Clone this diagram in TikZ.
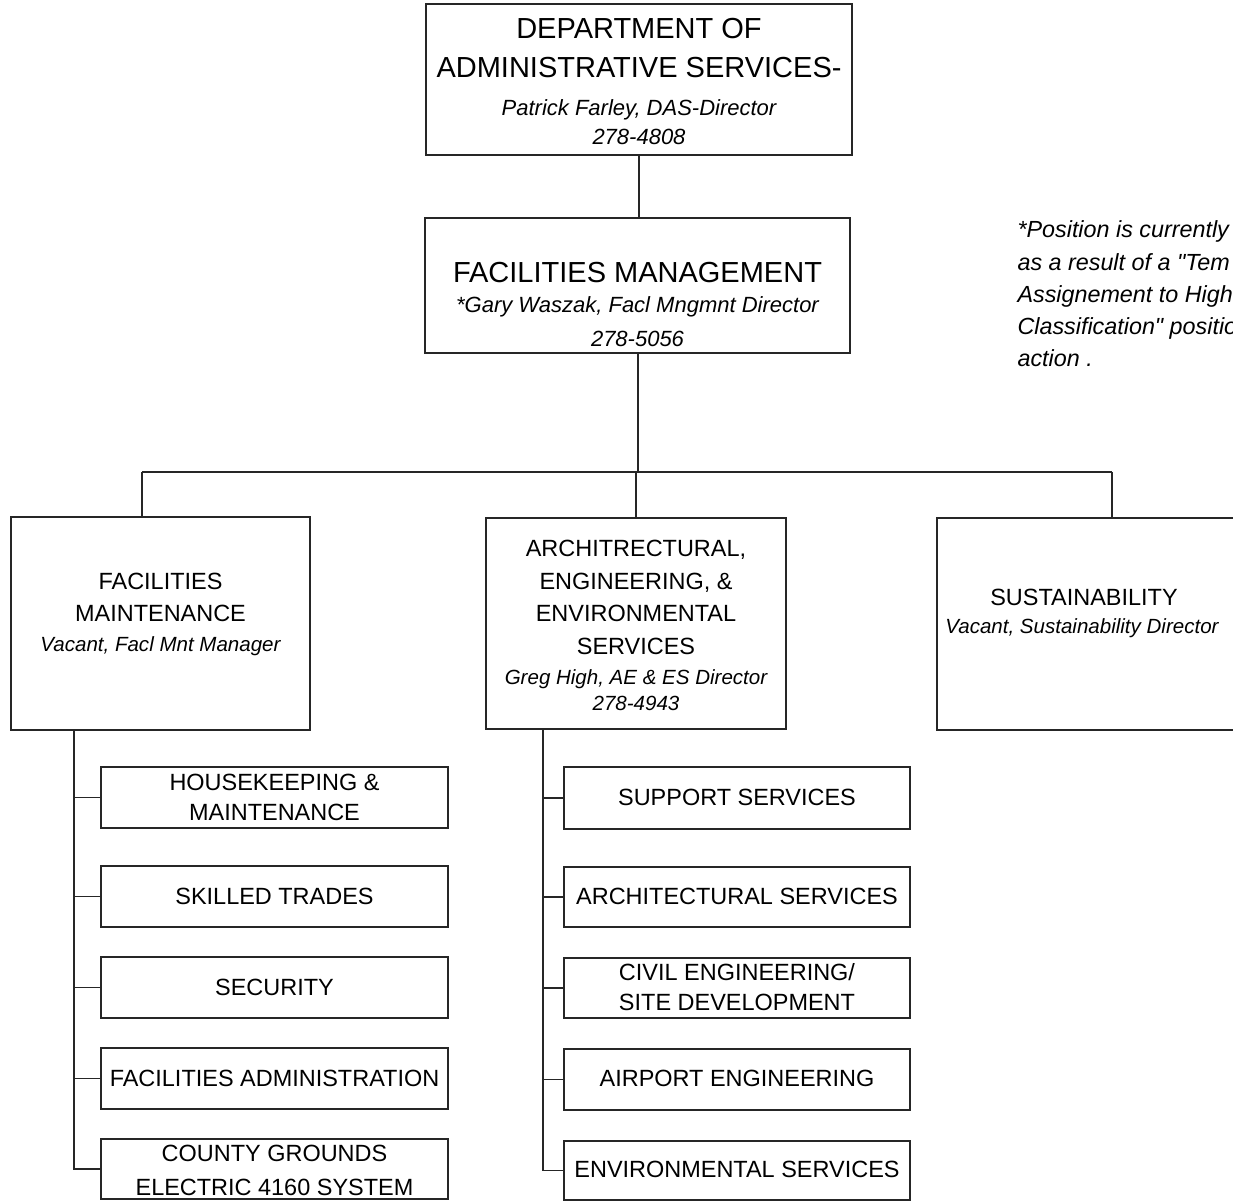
\documentclass[tikz,border=0pt]{standalone}
\usepackage{fontspec}
\setmainfont{Liberation Sans}
\newfontfamily\plainsans{Liberation Sans}
\begin{document}
\begin{tikzpicture}[x=0.75pt,y=-0.75pt,
  line width=0.8pt,
  bx/.style 2 args={draw=black!85, line width=0.8pt, inner sep=0pt, minimum width=#1*0.75pt, minimum height=#2*0.75pt},
  conn/.style={draw=black!85, line width=0.8pt},
  tbig/.style={inner sep=0pt, text height=15.6pt, text depth=0pt, font=\fontsize{21.75}{24}\selectfont},
  tit/.style={inner sep=0pt, text height=11.8pt, text depth=0pt, font=\itshape\fontsize{16.5}{19}\selectfont},
  tmid/.style={inner sep=0pt, text height=12.6pt, text depth=0pt, font=\fontsize{17.6}{20}\selectfont},
  tmidit/.style={inner sep=0pt, text height=11pt, text depth=0pt, font=\itshape\fontsize{15.4}{18}\selectfont},
  tsub/.style={inner sep=0pt, text height=12.6pt, text depth=0pt, font=\fontsize{17.6}{20}\selectfont},
  tnote/.style={inner sep=0pt, anchor=west, text height=12.5pt, text depth=0pt, font=\plainsans\itshape\fontsize{17.5}{20}\selectfont}
]
\useasboundingbox (0,0) rectangle (1233,1201);
\fill[white] (0,0) rectangle (1233,1201);
\clip (0,0) rectangle (1233,1201);

% ---- boxes ----
\node[bx={426}{151}] (das) at (639,79.5) {};
\node[bx={425}{135}] (fm) at (637.5,285.5) {};
\node[bx={299}{213}] (fmaint) at (160.5,623.5) {};
\node[bx={300}{211}] (aees) at (636,623.5) {};
\node[bx={303}{212}] (sus) at (1088.5,624) {};

\node[bx={347}{61}] (hk) at (274.5,797.5) {};
\node[bx={347}{61}] (st) at (274.5,896.5) {};
\node[bx={347}{61}] (sec) at (274.5,987.5) {};
\node[bx={347}{61}] (fa) at (274.5,1078.5) {};
\node[bx={347}{60}] (cg) at (274.5,1169) {};

\node[bx={346}{62}] (ss) at (737,798) {};
\node[bx={346}{60}] (as) at (737,897) {};
\node[bx={346}{60}] (cv) at (737,988) {};
\node[bx={346}{61}] (ap) at (737,1079.5) {};
\node[bx={346}{59}] (env) at (737,1170.5) {};

% ---- texts ----
\node[tbig] (das1) at (639,28) {DEPARTMENT OF};
\node[tbig] (das2) at (639,67) {ADMINISTRATIVE SERVICES-};
\node[tit] (das3) at (639,108) {Patrick Farley, DAS-Director};
\node[tit] (das4) at (639,137) {278-4808};

\node[tbig] (fm1) at (637.5,272) {FACILITIES MANAGEMENT};
\node[tit] (fm2) at (637.5,305) {*Gary Waszak, Facl Mngmnt Director};
\node[tit] (fm3) at (637.5,339) {278-5056};

\node[tmid] (fmaint1) at (160.5,581) {FACILITIES};
\node[tmid] (fmaint2) at (160.5,613) {MAINTENANCE};
\node[tmidit] (fmaint3) at (160.5,644) {Vacant, Facl Mnt Manager};

\node[tmid] (aees1) at (636,548) {ARCHITRECTURAL,};
\node[tmid] (aees2) at (636,581) {ENGINEERING, \&};
\node[tmid] (aees3) at (636,613) {ENVIRONMENTAL};
\node[tmid] (aees4) at (636,646) {SERVICES};
\node[tmidit] (aees5) at (636,677) {Greg High, AE \& ES Director};
\node[tmidit] (aees6) at (636,703) {278-4943};

\node[tmid] (sus1) at (1084,597) {SUSTAINABILITY};
\node[tmidit] (sus2) at (1082,626) {Vacant, Sustainability Director};

\node[tsub] (hk1) at (274.5,782) {HOUSEKEEPING \&};
\node[tsub] (hk2) at (274.5,812) {MAINTENANCE};
\node[tsub] (st1) at (274.5,896) {SKILLED TRADES};
\node[tsub] (sec1) at (274.5,987) {SECURITY};
\node[tsub] (fa1) at (274.5,1078) {FACILITIES ADMINISTRATION};
\node[tsub] (cg1) at (274.5,1153) {COUNTY GROUNDS};
\node[tsub] (cg2) at (274.5,1187) {ELECTRIC 4160 SYSTEM};

\node[tsub] (ss1) at (737,797) {SUPPORT SERVICES};
\node[tsub] (as1) at (737,896) {ARCHITECTURAL SERVICES};
\node[tsub] (cv1) at (737,972) {CIVIL ENGINEERING/};
\node[tsub] (cv2) at (737,1002) {SITE DEVELOPMENT};
\node[tsub] (ap1) at (737,1078) {AIRPORT ENGINEERING};
\node[tsub] (env1) at (737,1169) {ENVIRONMENTAL SERVICES};

\node[tnote] (n1) at (1017,229) {*Position is currently};
\node[tnote] (n2) at (1017,262) {as a result of a "Tem};
\node[tnote] (n3) at (1017,294) {Assignement to High};
\node[tnote] (n4) at (1017,326) {Classification" positio};
\node[tnote] (n5) at (1017,358) {action .};

% ---- connectors ----
\coordinate (bus) at (638,472);
\coordinate (bl) at (142,472);
\coordinate (bm) at (636,472);
\coordinate (br) at (1112,472);
\coordinate (tl) at (74,730);
\coordinate (tr) at (543,729);

\draw[conn] (das.south) -- (das.south |- fm.north);
\draw[conn] (fm.south -| bus) -- (bus);
\draw[conn] (bl) -- (br);
\draw[conn] (bl) -- (bl |- fmaint.north);
\draw[conn] (bm) -- (bm |- aees.north);
\draw[conn] (br) -- (br |- sus.north);

\draw[conn] (tl) |- (hk.west);
\draw[conn] (tl) |- (st.west);
\draw[conn] (tl) |- (sec.west);
\draw[conn] (tl) |- (fa.west);
\draw[conn] (tl) |- (cg.west);

\draw[conn] (tr) |- (ss.west);
\draw[conn] (tr) |- (as.west);
\draw[conn] (tr) |- (cv.west);
\draw[conn] (tr) |- (ap.west);
\draw[conn] (tr) |- (env.west);
\end{tikzpicture}
\end{document}
